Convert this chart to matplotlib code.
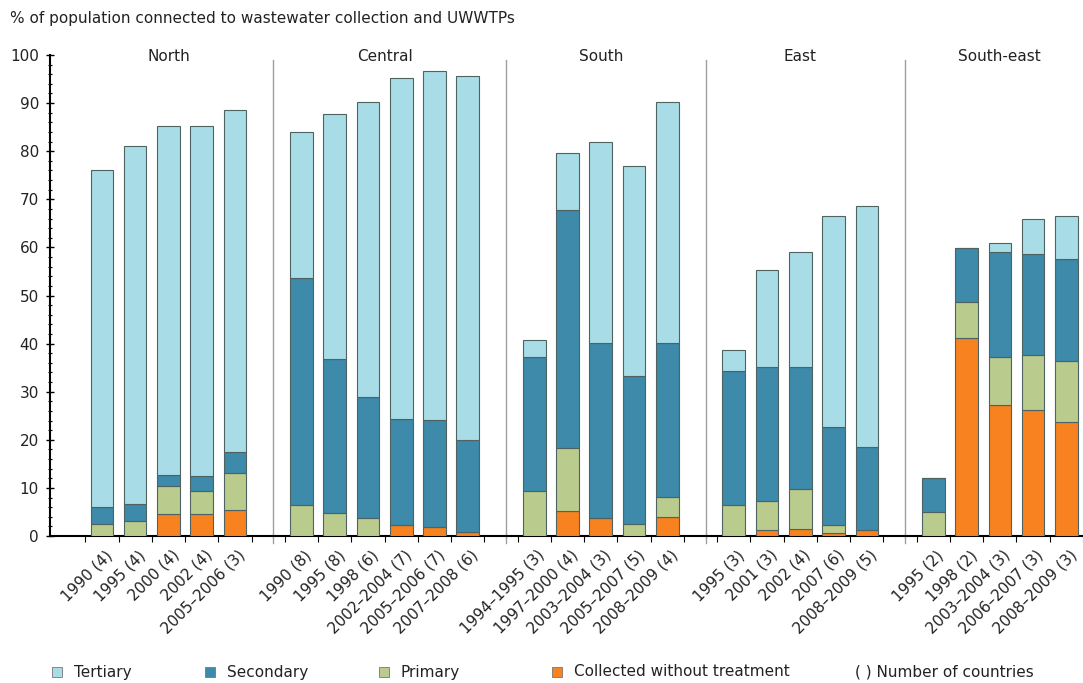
import matplotlib
matplotlib.use("Agg")
import matplotlib.pyplot as plt
import matplotlib.transforms as mtransforms
from matplotlib.patches import Rectangle
import numpy as np

# Regions and period labels (number of countries in brackets)
regions = ["North", "Central", "South", "East", "South-east"]
periods = [
    ["1990 (4)", "1995 (4)", "2000 (4)", "2002 (4)", "2005–2006 (3)"],
    ["1990 (8)", "1995 (8)", "1998 (6)", "2002–2004 (7)", "2005–2006 (7)", "2007–2008 (6)"],
    ["1994–1995 (3)", "1997–2000 (4)", "2003–2004 (3)", "2005–2007 (5)", "2008–2009 (4)"],
    ["1995 (3)", "2001 (3)", "2002 (4)", "2007 (6)", "2008–2009 (5)"],
    ["1995 (2)", "1998 (2)", "2003–2004 (3)", "2006–2007 (3)", "2008–2009 (3)"],
]

# % of population per treatment level
collected = [
    [0, 0, 4.5, 4.5, 5.4],
    [0, 0, 0, 2.3, 1.9, 0.9],
    [0, 5.3, 3.7, 0, 4.0],
    [0, 1.2, 1.5, 0.7, 1.2],
    [0, 41.1, 27.2, 26.2, 23.8],
]
primary = [
    [2.5, 3.1, 5.8, 4.9, 7.6],
    [6.4, 4.7, 3.7, 0, 0, 0],
    [9.4, 12.9, 0, 2.4, 4.2],
    [6.4, 6.1, 8.2, 1.6, 0],
    [4.9, 7.5, 10.1, 11.4, 12.6],
]
secondary = [
    [3.5, 3.5, 2.4, 3.1, 4.5],
    [47.2, 32.0, 25.1, 22.0, 22.2, 19.1],
    [27.9, 49.6, 36.5, 30.9, 32.0],
    [27.8, 27.9, 25.5, 20.4, 17.4],
    [7.2, 11.3, 21.8, 21.0, 21.2],
]
tertiary = [
    [70.1, 74.5, 72.6, 72.8, 71.1],
    [30.3, 51.0, 61.5, 70.9, 72.6, 75.7],
    [3.4, 11.8, 41.8, 43.7, 50.1],
    [4.5, 20.1, 23.9, 43.8, 50.0],
    [0, 0, 1.9, 7.4, 9.0],
]

col_ter = "#a8dce7"
col_sec = "#3d8aaa"
col_pri = "#b9cb8d"
col_col = "#f7821f"
edge = "#4f6262"
FS = 11

# flatten with one empty slot between regions
xpos, labels, group_centres, separators = [], [], [], []
flat = {"c": [], "p": [], "s": [], "t": []}
slot = 0
for g in range(len(regions)):
    start = slot
    for j, lab in enumerate(periods[g]):
        xpos.append(slot)
        labels.append(lab)
        flat["c"].append(collected[g][j])
        flat["p"].append(primary[g][j])
        flat["s"].append(secondary[g][j])
        flat["t"].append(tertiary[g][j])
        slot += 1
    group_centres.append((start + slot - 1) / 2)
    if g < len(regions) - 1:
        separators.append(slot + 0.15)
    slot += 1

xpos = np.array(xpos, dtype=float)
c = np.array(flat["c"])
p = np.array(flat["p"])
s = np.array(flat["s"])
t = np.array(flat["t"])

fig = plt.figure(figsize=(10.83, 6.83), dpi=100)
ax = fig.add_axes([50 / 1083, 147 / 683, 1 - 50 / 1083, 481 / 683])

w = 0.68
kw = dict(width=w, edgecolor=edge, linewidth=0.8, zorder=3)
ax.bar(xpos, c, color=col_col, **kw)
ax.bar(xpos, p, bottom=c, color=col_pri, **kw)
ax.bar(xpos, s, bottom=c + p, color=col_sec, **kw)
ax.bar(xpos, t, bottom=c + p + s, color=col_ter, **kw)

ax.set_xlim(-1.56, 29.5)
ax.set_ylim(0, 100)
ax.set_yticks(np.arange(0, 101, 10))
ax.set_yticks(np.arange(0, 101, 2), minor=True)

for sp in ["top", "right"]:
    ax.spines[sp].set_visible(False)
ax.spines["left"].set_linewidth(1.5)
ax.spines["bottom"].set_linewidth(1.5)

ax.tick_params(axis="y", which="major", direction="inout", length=6, width=1, labelsize=FS, pad=5, labelcolor="#222222")
ax.tick_params(axis="y", which="minor", direction="inout", length=3, width=0.8)

ax.set_xticks(xpos)
ax.set_xticklabels(labels, rotation=45, ha="right", va="center", rotation_mode="anchor", fontsize=FS, color="#222222")
ax.tick_params(axis="x", which="major", length=0, pad=12)
offset = mtransforms.ScaledTranslation(8 / 100, 0, fig.dpi_scale_trans)
for lbl in ax.get_xticklabels():
    lbl.set_transform(lbl.get_transform() + offset)
ax.set_xticks(np.arange(-0.5, 29.6, 1.0), minor=True)
ax.tick_params(axis="x", which="minor", direction="out", length=4, width=0.8)

for xs in separators:
    ax.plot([xs, xs], [-1.5, 99], color="#a0a0a0", linewidth=1, clip_on=False, zorder=1)

for name, xc in zip(regions, group_centres):
    ax.text(xc, 99.6, name, ha="center", va="center", fontsize=FS, color="#222222")

fig.text(10 / 1083, 1 - 18 / 683, "% of population connected to wastewater collection and UWWTPs",
         ha="left", va="center", fontsize=FS, color="#222222")

# legend drawn by hand at the bottom
legend_items = [("Tertiary", col_ter, 52), ("Secondary", col_sec, 205),
                ("Primary", col_pri, 379), ("Collected without treatment", col_col, 552)]
ly = 672
for txt, colr, px in legend_items:
    fig.add_artist(Rectangle((px / 1083, (683 - ly - 5) / 683), 10 / 1083, 10 / 683,
                             transform=fig.transFigure, facecolor=colr, edgecolor="#777777", linewidth=0.6))
    fig.text((px + 22) / 1083, (683 - ly) / 683, txt, ha="left", va="center", fontsize=FS, color="#222222")
fig.text(855 / 1083, (683 - ly) / 683, "( ) Number of countries", ha="left", va="center", fontsize=FS, color="#222222")

fig.savefig("out.png", dpi=100)
